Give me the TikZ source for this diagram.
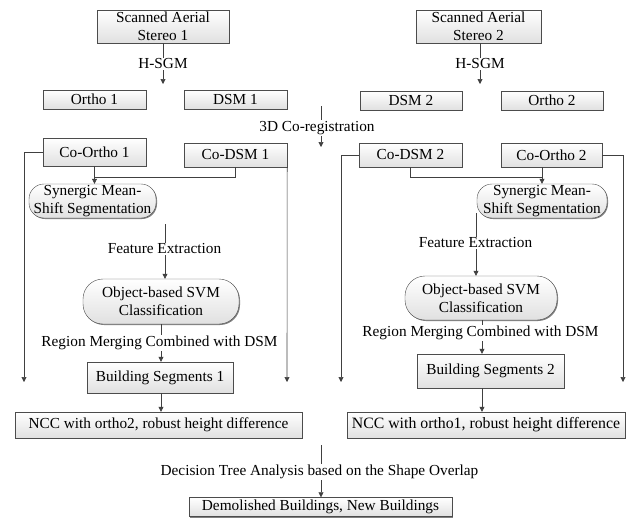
\documentclass[tikz,border=0pt]{standalone}
\usepackage{fontspec}
\setmainfont{Liberation Serif}
\usetikzlibrary{arrows.meta,shadows}

\begin{document}
\begin{tikzpicture}[x=1pt,y=-1pt,
    box/.style={draw=black!70,top color=white,bottom color=black!12,
      drop shadow={shadow xshift=1pt,shadow yshift=-1pt,fill=black!50,opacity=1},
      inner sep=0pt,align=center,font=\fontsize{15.3}{18}\selectfont},
    rbox/.style={box,rounded corners=15pt},
    lbl/.style={inner sep=1pt,font=\fontsize{15.3}{18}\selectfont},
    ln/.style={draw=black!75,line width=0.6pt},
    arr/.style={draw=black!75,line width=0.6pt,-{Triangle[length=5pt,width=5pt]}}]
    \useasboundingbox (0,0) rectangle (626,517);

    % left branch
    \node[box,minimum width=132,minimum height=33] (scan1) at (163,26.5) {Scanned Aerial\\Stereo 1};
    \node[lbl] (hsgm1) at (163,64) {H-SGM};
    \coordinate (hsgm1e) at (163,84);
    \node[box,minimum width=103,minimum height=19] (ortho1) at (94.5,99.5) {Ortho 1};
    \node[box,minimum width=103,minimum height=19] (dsm1) at (235.5,99.5) {DSM 1};
    \node[box,minimum width=103,minimum height=28] (coortho1) at (94.5,152) {Co-Ortho 1};
    \node[box,minimum width=103,minimum height=24] (codsm1) at (235.5,155) {Co-DSM 1};
    \node[rbox,minimum width=127,minimum height=34] (seg1) at (92.5,201) {Synergic Mean-\\Shift Segmentation};
    \node[lbl] (fe1) at (164.5,249) {Feature Extraction};
    \coordinate (fe1s) at (165,224);
    \node[rbox,rounded corners=20pt,minimum width=156,minimum height=45] (svm1) at (161,301.5) {Object-based SVM\\Classification};
    \node[lbl] (rm1) at (159.5,343) {Region Merging Combined with DSM};
    \node[box,minimum width=146,minimum height=31] (bs1) at (160,377.5) {Building Segments 1};
    \node[box,minimum width=287,minimum height=26] (ncc1) at (158.5,425) {NCC with ortho2, robust height difference};
    \coordinate (j1) at (94.5,177);
    \coordinate (l1) at (24,382);
    \coordinate (r1) at (287,382);

    \draw[ln] (scan1) -- (hsgm1);
    \draw[arr] (hsgm1) -- (hsgm1e);
    \draw[arr] (coortho1) -- (seg1.north -| coortho1);
    \draw[ln] (codsm1) |- (j1);
    \draw[arr] (coortho1.west) -| (l1);
    \draw[arr] (codsm1.south east) -- (r1);
    \draw[ln] (fe1s) -- (fe1s |- fe1.north);
    \draw[arr] (fe1s |- fe1.south) -- (fe1s |- svm1.north);
    \draw[ln] (svm1) -- (svm1 |- rm1.north);
    \draw[arr] (svm1 |- rm1.south) -- (svm1 |- bs1.north);
    \draw[arr] (svm1 |- bs1.south) -- (svm1 |- ncc1.north);

    % co-registration
    \node[lbl] (reg) at (317,128) {3D Co-registration};
    \coordinate (regs) at (321,106);
    \coordinate (rege) at (321,147);
    \draw[ln] (regs) -- (regs |- reg.north);
    \draw[arr] (regs |- reg.south) -- (rege);

    % right branch
    \node[box,minimum width=125,minimum height=33] (scan2) at (478.5,26.5) {Scanned Aerial\\Stereo 2};
    \node[lbl] (hsgm2) at (480,64) {H-SGM};
    \coordinate (hsgm2e) at (480,84);
    \node[box,minimum width=102,minimum height=19] (dsm2) at (411,100.5) {DSM 2};
    \node[box,minimum width=102,minimum height=19] (ortho2) at (552,100.5) {Ortho 2};
    \node[box,minimum width=103,minimum height=24] (codsm2) at (410.5,155) {Co-DSM 2};
    \node[box,minimum width=101,minimum height=24] (coortho2) at (551.5,155) {Co-Ortho 2};
    \node[rbox,minimum width=130,minimum height=34] (seg2) at (542,201) {Synergic Mean-\\Shift Segmentation};
    \node[lbl] (fe2) at (475.5,243) {Feature Extraction};
    \coordinate (fe2s) at (476,213);
    \node[rbox,rounded corners=20pt,minimum width=152,minimum height=44] (svm2) at (481,298) {Object-based SVM\\Classification};
    \node[lbl] (rm2) at (480.5,333) {Region Merging Combined with DSM};
    \node[box,minimum width=147,minimum height=34] (bs2) at (490.5,371) {Building Segments 2};
    \node[box,minimum width=278,minimum height=26] (ncc2) at (486,425) {\fontsize{15.8}{18}\selectfont NCC with ortho1, robust height difference};
    \coordinate (j2) at (542,177);
    \coordinate (l2) at (341,382);
    \coordinate (r2) at (623,382);
    \coordinate (m2) at (482,0);

    \draw[ln] (scan2.south -| hsgm2) -- (hsgm2);
    \draw[arr] (hsgm2) -- (hsgm2e);
    \draw[ln] (codsm2) |- (j2);
    \draw[arr] (coortho2.south -| j2) -- (seg2.north -| j2);
    \draw[arr] (codsm2.west) -| (l2);
    \draw[arr] (coortho2.east) -| (r2);
    \draw[ln] (fe2s) -- (fe2s |- fe2.north);
    \draw[arr] (fe2s |- fe2.south) -- (fe2s |- svm2.north);
    \draw[ln] (m2 |- svm2.south) -- (m2 |- rm2.north);
    \draw[arr] (m2 |- rm2.south) -- (m2 |- bs2.north);
    \draw[arr] (m2 |- bs2.south) -- (m2 |- ncc2.north);

    % decision
    \node[lbl] (dt) at (319.5,472) {Decision Tree Analysis based on the Shape Overlap};
    \node[box,minimum width=263,minimum height=19] (demo) at (320.5,507) {Demolished Buildings, New Buildings};
    \coordinate (dts) at (321,445);
    \draw[ln] (dts) -- (dts |- dt.north);
    \draw[arr] (dts |- dt.south) -- (dts |- demo.north);
\end{tikzpicture}
\end{document}
